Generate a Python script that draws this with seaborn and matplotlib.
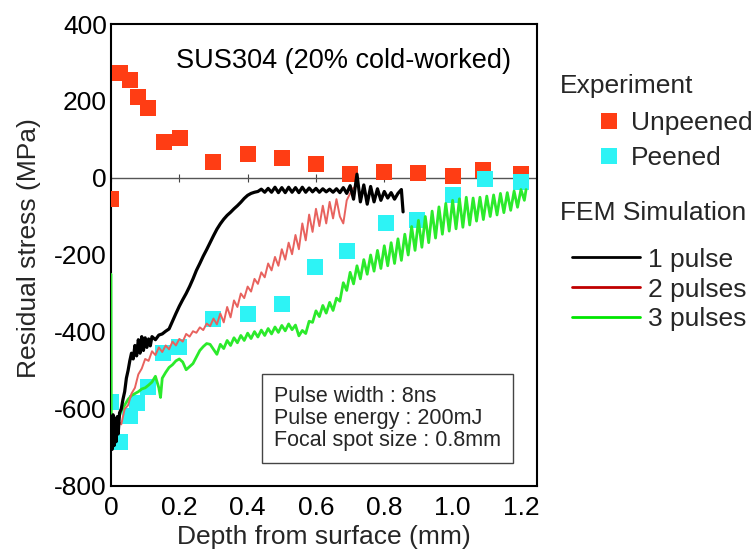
import matplotlib
matplotlib.use("Agg")
import matplotlib.pyplot as plt
from matplotlib.lines import Line2D
import seaborn as sns
import pandas as pd

# ---------------- data ----------------
unpeened_depth = [0.000, 0.026, 0.056, 0.078, 0.108, 0.155, 0.202, 0.300, 0.400, 0.500,
                  0.600, 0.700, 0.800, 0.900, 1.000, 1.090, 1.200]
unpeened_stress = [-55, 273, 255, 211, 182, 94, 104, 42, 62, 52,
                   36, 10, 16, 13, 5, 22, 10]

peened_depth = [0.000, 0.026, 0.056, 0.076, 0.108, 0.153, 0.200, 0.300, 0.400, 0.500,
                0.597, 0.690, 0.805, 0.895, 1.000, 1.095, 1.200]
peened_stress = [-582, -686, -618, -584, -543, -455, -439, -366, -353, -327,
                 -231, -190, -116, -109, -44, -3, -10]

pulse1_depth = [0.000, 0.003, 0.006, 0.009, 0.012, 0.015, 0.018, 0.021, 0.025, 0.030,
                0.035, 0.040, 0.045, 0.050, 0.055, 0.060, 0.065, 0.070, 0.075, 0.080,
                0.085, 0.090, 0.095, 0.100, 0.105, 0.110, 0.115, 0.120, 0.130, 0.140,
                0.150, 0.160, 0.170, 0.180, 0.190, 0.200, 0.210, 0.220, 0.230, 0.240,
                0.250, 0.260, 0.270, 0.280, 0.290, 0.300, 0.310, 0.320, 0.330, 0.340,
                0.350, 0.360, 0.370, 0.380, 0.390, 0.400, 0.410, 0.420, 0.430, 0.440,
                0.450, 0.460, 0.470, 0.480, 0.490, 0.500, 0.510, 0.520, 0.530, 0.540,
                0.550, 0.560, 0.570, 0.580, 0.590, 0.600, 0.610, 0.620, 0.630, 0.640,
                0.650, 0.660, 0.670, 0.680, 0.690, 0.700, 0.710, 0.720, 0.730, 0.740,
                0.750, 0.760, 0.770, 0.780, 0.790, 0.800, 0.810, 0.820, 0.830, 0.840,
                0.850, 0.855]
pulse1_stress = [-640, -705, -615, -695, -625, -685, -620, -665, -610, -600,
                 -575, -555, -520, -500, -475, -455, -470, -435, -462, -420,
                 -455, -412, -448, -415, -440, -418, -436, -412, -420, -408,
                 -405, -398, -392, -372, -352, -333, -316, -300, -282, -262,
                 -240, -222, -203, -186, -168, -150, -133, -119, -107, -97,
                 -89, -80, -72, -63, -53, -45, -40, -37, -35, -29,
                 -37, -27, -37, -24, -38, -25, -38, -24, -37, -25,
                 -38, -24, -37, -26, -36, -27, -37, -28, -36, -29,
                 -37, -28, -38, -25, -40, -20, -55, 10, -62, -18,
                 -68, -22, -62, -28, -58, -35, -52, -38, -55, -40,
                 -30, -88]

pulse2_depth = [0.000, 0.005, 0.010, 0.015, 0.020, 0.030, 0.040, 0.050, 0.060, 0.070,
                0.080, 0.090, 0.100, 0.110, 0.120, 0.130, 0.140, 0.150, 0.160, 0.170,
                0.180, 0.190, 0.200, 0.210, 0.220, 0.230, 0.240, 0.250, 0.260, 0.270,
                0.280, 0.290, 0.300, 0.310, 0.320, 0.330, 0.340, 0.350, 0.360, 0.370,
                0.380, 0.390, 0.400, 0.410, 0.420, 0.430, 0.440, 0.450, 0.460, 0.470,
                0.480, 0.490, 0.500, 0.510, 0.520, 0.530, 0.540, 0.550, 0.560, 0.570,
                0.580, 0.590, 0.600, 0.610, 0.620, 0.630, 0.640, 0.650, 0.660, 0.670,
                0.680, 0.690, 0.700, 0.710]
pulse2_stress = [-650, -690, -640, -675, -630, -640, -600, -590, -560, -545,
                 -510, -495, -470, -475, -450, -460, -440, -452, -435, -445,
                 -425, -435, -418, -425, -405, -412, -398, -402, -388, -395,
                 -378, -385, -365, -380, -352, -375, -335, -362, -318, -335,
                 -300, -312, -282, -295, -262, -275, -245, -258, -222, -240,
                 -205, -228, -185, -212, -168, -198, -148, -185, -118, -162,
                 -95, -140, -80, -125, -72, -118, -62, -105, -55, -100,
                 -118, -58, -40, -25]

pulse3_depth = [0.000, 0.001, 0.010, 0.020, 0.030, 0.040, 0.050, 0.060, 0.070, 0.080,
                0.090, 0.100, 0.110, 0.120, 0.130, 0.140, 0.145, 0.150, 0.160, 0.170,
                0.180, 0.190, 0.200, 0.210, 0.220, 0.230, 0.240, 0.250, 0.260, 0.270,
                0.280, 0.290, 0.300, 0.310, 0.320, 0.330, 0.340, 0.350, 0.360, 0.370,
                0.380, 0.390, 0.400, 0.410, 0.420, 0.430, 0.440, 0.450, 0.460, 0.470,
                0.480, 0.490, 0.500, 0.510, 0.520, 0.530, 0.540, 0.550, 0.560, 0.570,
                0.580, 0.590, 0.600, 0.610, 0.620, 0.630, 0.640, 0.650, 0.660, 0.670,
                0.680, 0.690, 0.700, 0.710, 0.720, 0.730, 0.740, 0.750, 0.760, 0.770,
                0.780, 0.790, 0.800, 0.810, 0.820, 0.830, 0.840, 0.850, 0.860, 0.870,
                0.880, 0.890, 0.900, 0.910, 0.920, 0.930, 0.940, 0.950, 0.960, 0.970,
                0.980, 0.990, 1.000, 1.010, 1.020, 1.030, 1.040, 1.050, 1.060, 1.070,
                1.080, 1.090, 1.100, 1.110, 1.120, 1.130, 1.140, 1.150, 1.160, 1.170,
                1.180, 1.190, 1.200, 1.210, 1.215]
pulse3_stress = [-250, -660, -640, -630, -605, -590, -575, -565, -560, -555,
                 -548, -545, -538, -530, -515, -545, -570, -520, -505, -492,
                 -485, -475, -470, -478, -498, -490, -482, -465, -448, -438,
                 -430, -432, -445, -458, -432, -443, -422, -435, -415, -428,
                 -409, -422, -403, -417, -399, -413, -395, -409, -391, -405,
                 -387, -401, -383, -397, -379, -394, -382, -410, -396, -404,
                 -372, -375, -345, -360, -331, -351, -323, -344, -312, -320,
                 -272, -292, -245, -275, -228, -262, -212, -250, -200, -242,
                 -188, -235, -176, -228, -168, -222, -158, -214, -146, -200,
                 -126, -188, -110, -180, -100, -168, -86, -156, -75, -146,
                 -66, -138, -58, -132, -54, -128, -50, -122, -52, -112,
                 -50, -108, -47, -100, -44, -96, -40, -90, -38, -84,
                 -34, -76, -30, -58, -30]

x_ticks = [0, 0.2, 0.4, 0.6, 0.8, 1.0, 1.2]
x_tick_labels = ["0", "0.2", "0.4", "0.6", "0.8", "1.0", "1.2"]
y_ticks = [-800, -600, -400, -200, 0, 200, 400]
y_tick_labels = ["-800", "-600", "-400", "-200", "0", "200", "400"]

# ---------------- style ----------------
sns.set_theme(style="white")
plt.rcParams["font.family"] = ["Liberation Sans", "DejaVu Sans"]
plt.rcParams["axes.unicode_minus"] = False

RED = "#FF3D14"
CYAN = "#2DF3F5"
FS = 19

fig = plt.figure(figsize=(7.56, 5.54), dpi=100)
ax = fig.add_axes([111 / 756, 1 - 486 / 554, 426 / 756, 462 / 554])

ax.axhline(0, color="#555555", lw=1.0, zorder=1)

sns.scatterplot(x=unpeened_depth, y=unpeened_stress, ax=ax, marker="s", s=140,
                color=RED, linewidth=0, zorder=3)
sns.scatterplot(x=peened_depth, y=peened_stress, ax=ax, marker="s", s=140,
                color=CYAN, linewidth=0, zorder=3)

sns.lineplot(x=pulse3_depth, y=pulse3_stress, ax=ax, sort=False, estimator=None,
             color="#2BEA2B", lw=2.0, zorder=4)
sns.lineplot(x=pulse2_depth, y=pulse2_stress, ax=ax, sort=False, estimator=None,
             color="#E8625E", lw=1.4, zorder=5)
sns.lineplot(x=pulse1_depth, y=pulse1_stress, ax=ax, sort=False, estimator=None,
             color="black", lw=2.3, zorder=6)

ax.set_xlim(0, 1.247)
ax.set_ylim(-800, 400)
ax.set_xticks(x_ticks, x_tick_labels)
ax.set_yticks(y_ticks, y_tick_labels)
ax.tick_params(direction="in", length=5, width=1, colors="black", labelsize=FS)
ax.tick_params(axis="x", pad=7)
ax.tick_params(axis="y", pad=3)
for s in ax.spines.values():
    s.set_color("black")
    s.set_linewidth(1.5)

sec = ax.secondary_xaxis(2 / 3)
sec.set_xticks(x_ticks, [""] * len(x_ticks))
sec.tick_params(direction="inout", length=6, width=0.8, colors="#444444")
for s in sec.spines.values():
    s.set_visible(False)

ax.set_xlabel("Depth from surface (mm)", fontsize=FS, labelpad=4)
ax.set_ylabel("Residual stress (MPa)", fontsize=FS)
ax.yaxis.set_label_coords(-0.165, 0.515)

ax.text(0.19, 304, "SUS304 (20% cold-worked)", fontsize=19.5, ha="left", va="center",
        color="black")
ax.text(0.477, -625, "Pulse width : 8ns\nPulse energy : 200mJ\nFocal spot size : 0.8mm",
        fontsize=15.5, ha="left", va="center", linespacing=1.05,
        bbox=dict(boxstyle="square,pad=0.55", fc="white", ec="#444444", lw=1.0),
        zorder=7)

# legends
fig.text(560 / 756, 1 - 86 / 554, "Experiment", fontsize=FS, ha="left", va="center")
fig.text(560 / 756, 1 - 213 / 554, "FEM Simulation", fontsize=FS, ha="left", va="center")

h1 = [Line2D([], [], ls="none", marker="s", ms=11, color=RED, mew=0),
      Line2D([], [], ls="none", marker="s", ms=11, color=CYAN, mew=0)]
leg1 = fig.legend(h1, ["Unpeened", "Peened"], loc="center left",
                  bbox_to_anchor=(598 / 756, 1 - 140.5 / 554), frameon=False,
                  fontsize=FS, handlelength=0.8, handletextpad=0.44,
                  labelspacing=0.42, borderpad=0, borderaxespad=0)
h2 = [Line2D([], [], color="black", lw=2),
      Line2D([], [], color="#C00000", lw=2),
      Line2D([], [], color="#00E600", lw=2)]
leg2 = fig.legend(h2, ["1 pulse", "2 pulses", "3 pulses"], loc="center left",
                  bbox_to_anchor=(572 / 756, 1 - 289.5 / 554), frameon=False,
                  fontsize=FS, handlelength=2.58, handletextpad=0.3,
                  labelspacing=0.22, borderpad=0, borderaxespad=0)

fig.savefig("out.png", dpi=100)
